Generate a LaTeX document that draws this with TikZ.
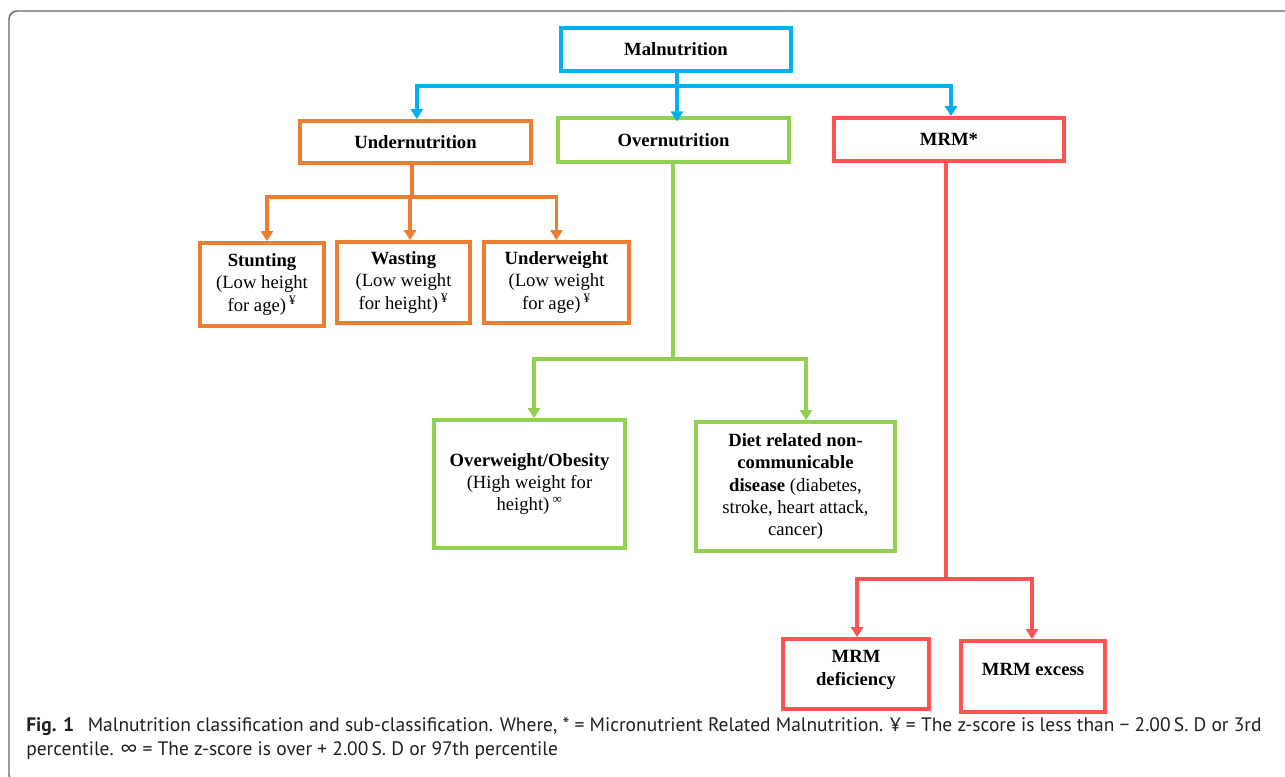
\documentclass[tikz,border=0pt]{standalone}
\usepackage{fontspec}
\setmainfont{Liberation Serif}
\newfontfamily\capfont{PT Sans}
\usetikzlibrary{arrows.meta}
\definecolor{cblue}{HTML}{00B0F0}
\definecolor{corange}{HTML}{ED7D31}
\definecolor{cgreen}{HTML}{92D050}
\definecolor{cred}{HTML}{FF5353}
\definecolor{cframe}{HTML}{666666}
\definecolor{ctext}{HTML}{231F20}
\tikzset{
  box/.style={draw, line width=2.8pt, align=center, inner sep=0pt, text=black,
    font=\fontsize{14}{16.8}\selectfont},
  boxlbl/.style={align=center, text=black, font=\fontsize{14}{16.8}\selectfont},
  conn/.style={line width=2.6pt},
  arr/.style={conn, -{Triangle[width=9pt,length=7.5pt]}},
  captext/.style={anchor=base west, inner sep=0pt, text=ctext,
    font=\capfont\fontsize{14.6}{17}\selectfont},
}
\begin{document}
\begin{tikzpicture}[x=0.75pt,y=-0.75pt]
\useasboundingbox (0,0) rectangle (1285,776);
\clip (0,0) rectangle (1285,776);
\draw[cframe, line width=1.1pt, rounded corners=6pt] (9,11) rectangle (1300,783);

% level 0
\node[box, draw=cblue, minimum width=172.5pt, minimum height=32.25pt] (mal) at (676,49.5) {\textbf{Malnutrition}};
% level 1
\node[box, draw=corange, minimum width=173.25pt, minimum height=31.5pt] (under) at (415.5,142) {\textbf{Undernutrition}};
\node[box, draw=cgreen, minimum width=173.25pt, minimum height=33pt] (over) at (673.5,140) {\textbf{Overnutrition}};
\node[box, draw=cred, minimum width=172.5pt, minimum height=32.25pt] (mrm) at (949,139.5) {\textbf{MRM*}};
% undernutrition children
\node[box, draw=corange, minimum width=93pt, minimum height=62.25pt] (stunt) at (262,284.5)
  {\textbf{Stunting}\\(Low height\\for age)\,\textsuperscript{¥}};
\node[box, draw=corange, minimum width=99.75pt, minimum height=60.75pt] (waste) at (403.5,282.5)
  {\textbf{Wasting}\\(Low weight\\for height)\,\textsuperscript{¥}};
\node[box, draw=corange, minimum width=108.75pt, minimum height=60.75pt] (underw) at (556.5,282.5)
  {\textbf{Underweight}\\(Low weight\\for age)\,\textsuperscript{¥}};
% overnutrition children
\node[box, draw=cgreen, minimum width=143.25pt, minimum height=96pt] (obese) at (529.5,484)
  {\textbf{Overweight/Obesity}\\(High weight for\\height)\,\textsuperscript{∞}};
\node[box, draw=cgreen, minimum width=149.25pt, minimum height=96.75pt] (diet) at (795.5,486.5)
  {\textbf{Diet related non-}\\\textbf{communicable}\\\textbf{disease} (diabetes,\\stroke, heart attack,\\cancer)};
% MRM children
\node[box, draw=cred, minimum width=109.5pt, minimum height=52.5pt,
  label={[boxlbl, yshift=3pt]center:\textbf{MRM}\\\textbf{deficiency}}] (def) at (856,674) {};
\node[box, draw=cred, minimum width=108pt, minimum height=53.25pt,
  label={[boxlbl, yshift=5.5pt]center:\textbf{MRM excess}}] (exc) at (1033,676.5) {};

% blue connectors
\coordinate (bb) at (677,86);
\draw[arr, cblue] (bb |- mal.south) -- ([yshift=-4pt]bb |- over.north);
\draw[arr, cblue] (bb) -| ([xshift=1pt]under.north);
\draw[arr, cblue] (bb) -| ([xshift=1.5pt]mrm.north);
% orange connectors
\coordinate (ob) at (412,197);
\draw[conn, corange] (ob |- under.south) -- (ob);
\draw[arr, corange] (ob) -| ([xshift=3.75pt]stunt.north);
\draw[arr, corange] (ob) -| ([xshift=4.9pt]waste.north);
\draw[arr, corange] (ob) -| (underw.north);
% green connectors
\coordinate (gb) at (673,359);
\draw[conn, cgreen] (gb |- over.south) -- (gb);
\draw[arr, cgreen] (gb) -| ([xshift=3.4pt]obese.north);
\draw[arr, cgreen] (gb) -| ([xshift=7.9pt]diet.north);
% red connectors
\coordinate (rb) at (946,579);
\draw[conn, cred] (rb |- mrm.south) -- (rb);
\draw[arr, cred] (rb) -| ([xshift=0.75pt]def.north);
\draw[arr, cred] (rb) -| ([xshift=-0.75pt]exc.north);

% caption
\node[captext] (cap1) at (26,731) {\textbf{Fig. 1}\hspace{0.7em}Malnutrition classification and sub-classification. Where, * = Micronutrient Related Malnutrition. ¥ = The z-score is less than − 2.00\,S. D or 3rd};
\node[captext] (cap2) at (26,755) {percentile. ∞ = The z-score is over + 2.00\,S. D or 97th percentile};
\end{tikzpicture}
\end{document}
